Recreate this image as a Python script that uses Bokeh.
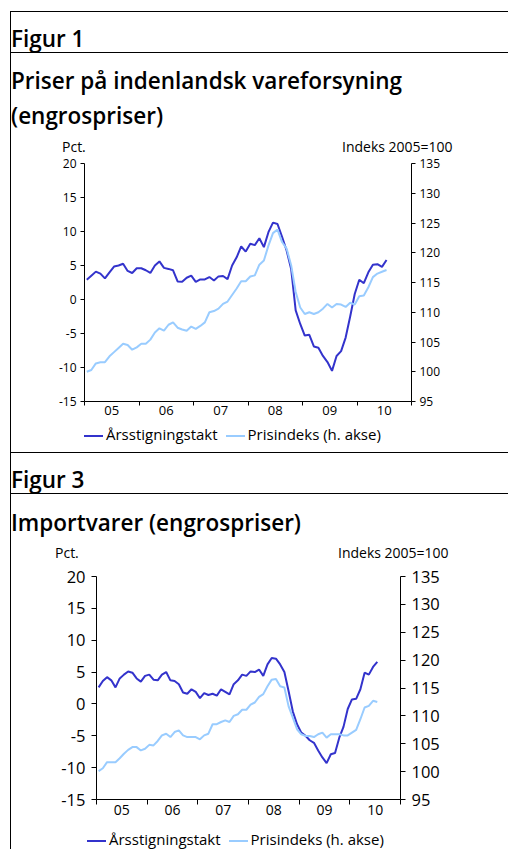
from bokeh.plotting import figure
from bokeh.models import LinearAxis, Range1d, FixedTicker, Div
from bokeh.layouts import column
from bokeh.embed import file_html
from bokeh.resources import INLINE

FONT = "Open Sans"
DARK = "#3333CC"
LIGHT = "#99CCFF"

# monthly observations, January 2005 - July 2010 (month index 0..66)
months = list(range(67))
year_labels = ["05", "06", "07", "08", "09", "10"]
left_ticks = [-15, -10, -5, 0, 5, 10, 15, 20]
right_ticks = [95, 100, 105, 110, 115, 120, 125, 130, 135]
series_names = ["Årsstigningstakt", "Prisindeks (h. akse)"]

# Figur 1: Priser på indenlandsk vareforsyning
fig1_growth = [2.9, 3.5, 4.1, 3.8, 3.1, 4.0, 4.85, 5.0, 5.25, 4.2, 3.9, 4.6,
               4.6, 4.3, 3.9, 5.0, 5.6, 4.65, 4.5, 4.3, 2.65, 2.6, 3.2, 3.5,
               2.6, 2.95, 2.95, 3.3, 2.8, 3.4, 3.45, 3.0, 5.0, 6.2, 7.8, 7.05,
               8.2, 8.0, 9.0, 7.7, 9.9, 11.3, 11.1, 9.2, 7.2, 4.5, -1.6, -3.6,
               -5.3, -5.2, -6.9, -7.1, -8.3, -9.2, -10.5, -8.3, -7.6, -5.6, -2.5, 0.8,
               2.9, 2.4, 4.0, 5.1, 5.2, 4.8, 5.8]
fig1_index = [100.0, 100.3, 101.4, 101.6, 101.6, 102.6, 103.3, 104.0, 104.7, 104.5, 103.7, 104.1,
              104.7, 104.7, 105.4, 106.6, 107.3, 106.9, 107.9, 108.3, 107.4, 107.1, 106.9, 107.6,
              107.2, 107.7, 108.3, 110.0, 110.2, 110.6, 111.4, 111.8, 112.9, 114.0, 115.2, 115.2,
              116.0, 116.2, 118.0, 118.7, 121.2, 123.3, 123.9, 121.8, 120.7, 117.9, 113.4, 110.8,
              109.7, 110.0, 109.7, 110.0, 110.6, 111.4, 110.8, 111.4, 111.3, 110.9, 111.6, 111.3,
              112.7, 112.8, 114.2, 115.9, 116.5, 116.8, 117.1]

# Figur 3: Importvarer
fig3_growth = [2.6, 3.6, 4.2, 3.7, 2.6, 4.0, 4.6, 5.1, 4.9, 4.0, 3.5, 4.4,
               4.6, 3.8, 3.7, 4.6, 5.0, 3.7, 3.6, 3.1, 1.8, 1.6, 2.3, 1.9,
               0.9, 1.7, 1.4, 1.6, 1.3, 2.3, 1.9, 1.5, 3.1, 3.7, 4.6, 4.4,
               5.1, 5.0, 5.4, 4.4, 6.2, 7.2, 7.1, 6.2, 5.0, 2.0, -1.2, -3.2,
               -4.5, -5.0, -5.7, -6.1, -7.3, -8.4, -9.3, -7.9, -7.7, -5.3, -3.6, -0.8,
               0.7, 0.8, 2.3, 4.9, 4.6, 5.8, 6.6]
fig3_index = [100.1, 100.6, 101.7, 101.7, 101.7, 102.4, 103.2, 103.9, 104.4, 104.4, 103.8, 104.1,
              104.8, 104.7, 105.5, 106.5, 106.8, 106.2, 107.1, 107.4, 106.5, 106.2, 106.2, 106.2,
              105.8, 106.5, 106.8, 108.5, 108.5, 108.9, 109.2, 108.9, 110.0, 110.3, 111.1, 111.1,
              112.0, 112.4, 113.4, 113.9, 115.3, 116.5, 116.6, 115.3, 115.1, 111.7, 109.7, 107.6,
              106.7, 106.4, 106.4, 106.2, 106.7, 107.0, 106.1, 106.7, 106.7, 106.7, 106.5, 106.5,
              107.0, 107.5, 109.4, 111.5, 111.8, 112.7, 112.5]

year_mid = [6 + 12 * i for i in range(len(year_labels))]
year_edges = [12 * i for i in range(len(year_labels) + 1)]

W = 497


def style_axis(ax, fs, tick_len, standoff):
    ax.axis_line_color = "#000000"
    ax.major_tick_line_color = "#000000"
    ax.minor_tick_line_color = "#000000"
    ax.major_label_text_font = FONT
    ax.major_label_text_font_size = fs
    ax.major_label_text_color = "#000000"
    ax.major_tick_out = tick_len
    ax.major_tick_in = 0
    ax.minor_tick_out = 0
    ax.minor_tick_in = 0
    ax.major_label_standoff = standoff


def chart(growth, index, height, bl, br, bt, bb, y_fs, x_fs, tick_len, y_standoff):
    p = figure(width=W, height=height, output_backend="svg", toolbar_location=None,
               tools="", x_range=Range1d(0, 72), y_range=Range1d(-15, 20),
               min_border_left=bl, min_border_right=br, min_border_top=bt,
               min_border_bottom=bb)
    if "frame_align" in p.properties():
        p.frame_align = False
    p.extra_y_ranges = {"idx": Range1d(95, 135)}
    p.xgrid.visible = False
    p.ygrid.visible = False
    p.outline_line_color = None

    xa = p.xaxis[0]
    xa.ticker = FixedTicker(ticks=year_mid, minor_ticks=year_edges)
    xa.major_label_overrides = {m: lab for m, lab in zip(year_mid, year_labels)}
    style_axis(xa, x_fs, 0, 0)
    xa.minor_tick_out = tick_len

    ya = p.yaxis[0]
    ya.ticker = FixedTicker(ticks=left_ticks)
    ya.major_label_overrides = {t: str(t) for t in left_ticks}
    style_axis(ya, y_fs, tick_len, y_standoff)

    ra = LinearAxis(y_range_name="idx", ticker=FixedTicker(ticks=right_ticks))
    style_axis(ra, y_fs, tick_len, y_standoff)
    p.add_layout(ra, "right")

    x = [m + 0.5 for m in months]
    p.line(x, growth, line_color=DARK, line_width=2)
    p.line(x, index, y_range_name="idx", line_color=LIGHT, line_width=2)
    return p


def heading(text):
    return Div(text=f'<div style="font-family:\'Open Sans\';font-weight:600;font-size:22.5px;'
                    f'line-height:22px;padding-top:16px;color:#000;white-space:nowrap;">{text}</div>',
               width=W, height=42, margin=0,
               styles={"border-top": "1px solid #000", "border-bottom": "1px solid #000",
                       "box-sizing": "border-box"})


def title(html, height, pad):
    return Div(text=f'<div style="font-family:\'Open Sans\';font-weight:600;font-size:22.5px;'
                    f'line-height:35px;padding-top:{pad}px;color:#000;white-space:nowrap;">{html}</div>',
               width=W, height=height, margin=0)


def axis_titles(pct_left, idx_left):
    return Div(text=f'<div style="position:relative;height:16px;font-family:\'Open Sans\';'
                    f'font-size:14px;line-height:16px;color:#000;white-space:nowrap;">'
                    f'<span style="position:absolute;left:{pct_left}px;top:0;">Pct.</span>'
                    f'<span style="position:absolute;left:{idx_left}px;top:0;">Indeks 2005=100</span>'
                    f'</div>',
               width=W, height=16, margin=0)


def legend(pad_left, height, line_h):
    def swatch(color, ml):
        return (f'<span style="display:inline-block;width:19px;height:2px;background:{color};'
                f'vertical-align:middle;margin-left:{ml}px;margin-right:3px;"></span>')
    return Div(text=f'<div style="font-family:\'Open Sans\';font-size:15px;line-height:{line_h}px;'
                    f'padding-left:{pad_left}px;color:#000;white-space:nowrap;">'
                    f'{swatch(DARK, 0)}{series_names[0]}{swatch(LIGHT, 8)}{series_names[1]}</div>',
               width=W, height=height, margin=0)


p1 = chart(fig1_growth, fig1_index, 270, 73, 97, 8, 24, "12px", "13px", 4, 4)
p3 = chart(fig3_growth, fig3_index, 268, 85, 108, 15, 30, "16.5px", "14px", 5, 6)

layout = column(
    heading("Figur 1"),
    title("Priser på indenlandsk vareforsyning<br>(engrospriser)", 86, 10),
    axis_titles(51, 331),
    p1,
    legend(73, 27, 18),
    heading("Figur 3"),
    title("Importvarer (engrospriser)", 51, 11),
    axis_titles(44, 327),
    p3,
    legend(76, 20, 20),
    spacing=0,
    styles={"border-left": "1px solid #000", "margin-left": "10px", "margin-top": "11px"},
)

open("out.html", "w").write(file_html(layout, INLINE))
